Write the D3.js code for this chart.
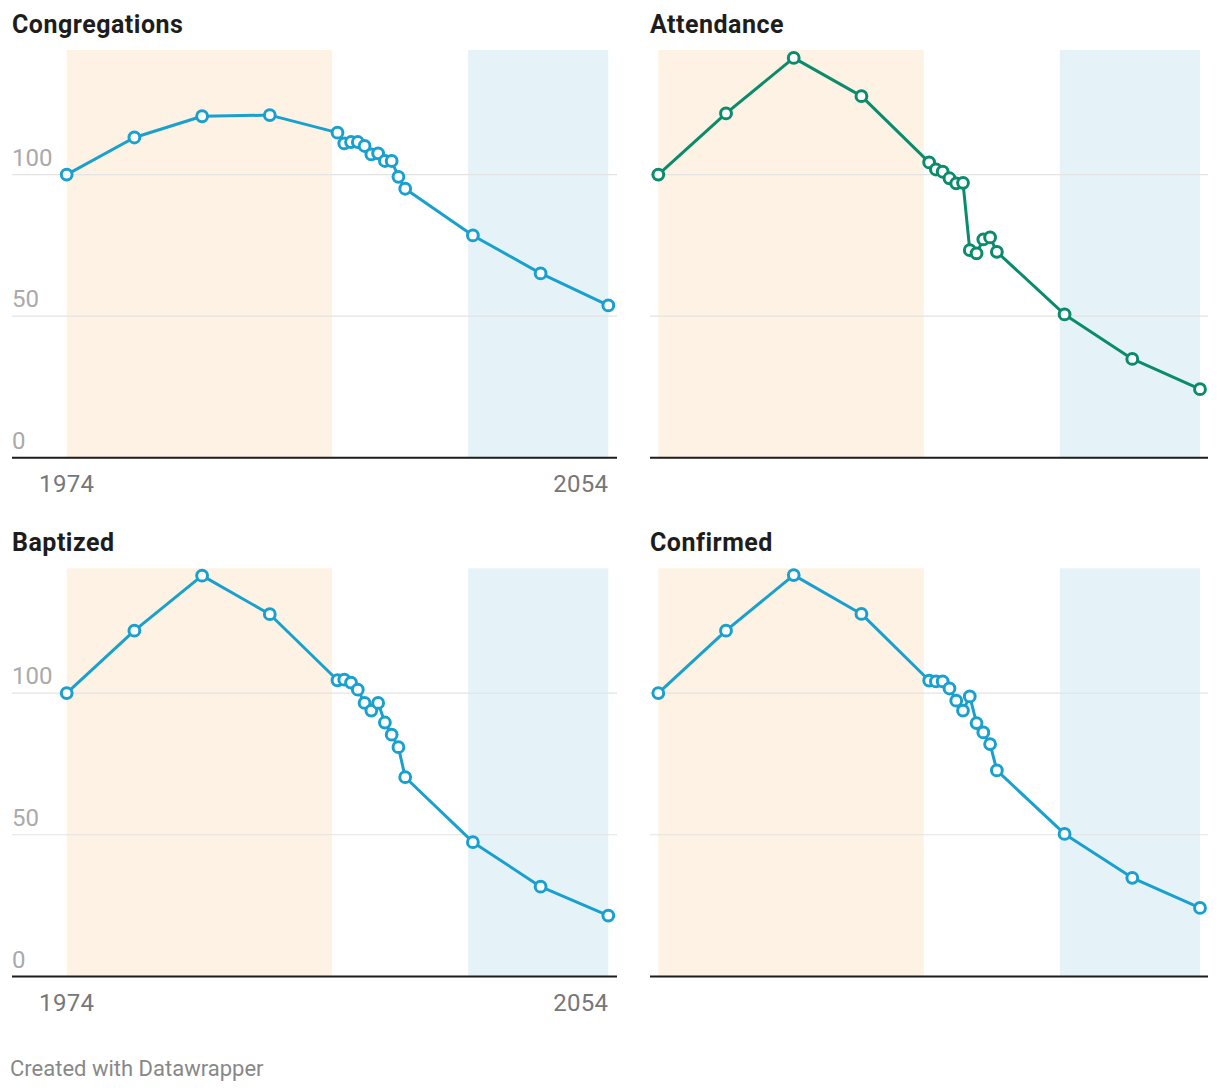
<!DOCTYPE html>
<html>
<head>
<meta charset="utf-8">
<script src="https://cdn.jsdelivr.net/npm/d3@7"></script>
<style>
  body { margin: 0; background: #fff; font-family: Roboto, "Noto Sans", sans-serif; }
</style>
</head>
<body>
<svg id="chart" width="1220" height="1092"></svg>
<script>
// data, indexed to 1974 = 100
const years = [1974, 1984, 1994, 2004, 2014, 2015, 2016, 2017, 2018, 2019, 2020, 2021, 2022, 2023, 2024, 2034, 2044, 2054];
const congregations = [100, 113.1, 120.6, 121.0, 114.8, 111.0, 111.5, 111.5, 110.1, 107.1, 107.5, 104.8, 104.8, 99.2, 95.0, 78.5, 65.1, 53.8];
const attendance = [100, 121.6, 141.2, 127.7, 104.3, 101.8, 101.0, 98.7, 96.9, 97.1, 73.3, 72.2, 77.1, 77.8, 72.7, 50.6, 34.9, 24.2];
const baptized = [100, 122.0, 141.4, 127.8, 104.5, 104.7, 103.7, 101.2, 96.5, 93.8, 96.5, 89.6, 85.3, 80.9, 70.3, 47.4, 31.7, 21.5];
const confirmed = [100, 122.0, 141.6, 127.9, 104.4, 104.1, 104.1, 101.6, 97.3, 93.8, 98.8, 89.4, 86.1, 82.0, 72.7, 50.3, 34.8, 24.2];

const titles = ["Congregations", "Attendance", "Baptized", "Confirmed"];
const seriesList = [congregations, attendance, baptized, confirmed];
const lineColors = ["#1aa0cf", "#0a8b6c", "#1aa0cf", "#1aa0cf"];

const pastShade = [1974, 2013.2];
const futureShade = [2033.3, 2054];
const yTicks = [0, 50, 100];
const xTickLabels = [1974, 2054];

const svg = d3.select("#chart");

// layout of the 2x2 grid
const cols = [
  { left: 12, x0: 66.7, x1: 608.3, right: 617, labels: true },
  { left: 650, x0: 658.3, x1: 1200, right: 1208, labels: false }
];
const rows = [
  { top: 50, bottom: 457.7 },
  { top: 568.3, bottom: 976.5 }
];

seriesList.forEach((values, i) => {
  const col = cols[i % 2];
  const row = rows[Math.floor(i / 2)];

  const x = d3.scaleLinear().domain([1974, 2054]).range([col.x0, col.x1]);
  const y = d3.scaleLinear().domain([0, 144]).range([row.bottom, row.top]);

  const g = svg.append("g");

  // title
  g.append("text")
    .attr("x", col.left)
    .attr("y", row.top - 17)
    .attr("font-size", 25)
    .attr("font-weight", 700)
    .attr("letter-spacing", 0.5)
    .attr("fill", "#1d1d1d")
    .text(titles[i]);

  // shaded periods
  g.append("rect")
    .attr("x", x(pastShade[0]))
    .attr("width", x(pastShade[1]) - x(pastShade[0]))
    .attr("y", row.top)
    .attr("height", row.bottom - row.top)
    .attr("fill", "#fdf2e4");
  g.append("rect")
    .attr("x", x(futureShade[0]))
    .attr("width", x(futureShade[1]) - x(futureShade[0]))
    .attr("y", row.top)
    .attr("height", row.bottom - row.top)
    .attr("fill", "#e5f3f9");

  // gridlines
  g.selectAll("line.grid")
    .data(yTicks.filter(t => t > 0))
    .enter()
    .append("line")
    .attr("class", "grid")
    .attr("x1", col.left)
    .attr("x2", col.right)
    .attr("y1", d => y(d))
    .attr("y2", d => y(d))
    .attr("stroke", "#e3e3e3")
    .attr("stroke-width", 1.2);

  // baseline
  g.append("line")
    .attr("x1", col.left)
    .attr("x2", col.right)
    .attr("y1", y(0))
    .attr("y2", y(0))
    .attr("stroke", "#1d1d1d")
    .attr("stroke-width", 2);

  if (col.labels) {
    g.selectAll("text.ylab")
      .data(yTicks)
      .enter()
      .append("text")
      .attr("class", "ylab")
      .attr("x", col.left)
      .attr("y", d => y(d) - 9)
      .attr("font-size", 24)
      .attr("fill", "#aaaaaa")
      .text(d => d);

    g.selectAll("text.xlab")
      .data(xTickLabels)
      .enter()
      .append("text")
      .attr("class", "xlab")
      .attr("x", d => x(d))
      .attr("y", row.bottom + 34)
      .attr("font-size", 24)
      .attr("letter-spacing", 0.3)
      .attr("fill", "#777777")
      .attr("text-anchor", (d, k) => k === 0 ? "middle" : "end")
      .text(d => d);
  }

  const pts = years.map((yr, k) => [yr, values[k]]);

  const line = d3.line().x(d => x(d[0])).y(d => y(d[1]));
  g.append("path")
    .datum(pts)
    .attr("d", line)
    .attr("fill", "none")
    .attr("stroke", lineColors[i])
    .attr("stroke-width", 3)
    .attr("stroke-linejoin", "round");

  g.selectAll("circle")
    .data(pts)
    .enter()
    .append("circle")
    .attr("cx", d => x(d[0]))
    .attr("cy", d => y(d[1]))
    .attr("r", 5.4)
    .attr("fill", "#fff")
    .attr("stroke", lineColors[i])
    .attr("stroke-width", 3);
});

// footer
svg.append("text")
  .attr("x", 10)
  .attr("y", 1076)
  .attr("font-size", 22)
  .attr("fill", "#888888")
  .text("Created with Datawrapper");
</script>
</body>
</html>
